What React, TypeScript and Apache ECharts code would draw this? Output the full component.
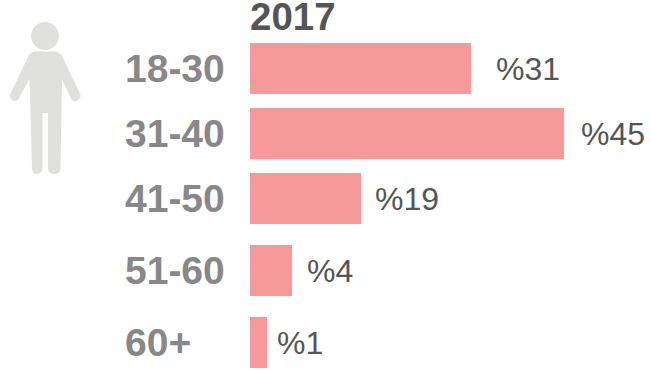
import React, { useEffect, useRef } from "react";
import * as echarts from "echarts";

const categories = ["18-30", "31-40", "41-50", "51-60", "60+"];
const values = [31, 45, 19, 4, 1];
const title = "2017";

// The source's rows are unevenly spaced and its bars are not to one scale,
// so each row gets its own grid, whose x axis ends at the row's value.
const rowLayout = [
  { top: 43, width: 221, gap: 25 },
  { top: 108, width: 314, gap: 17 },
  { top: 173, width: 111, gap: 14 },
  { top: 245, width: 42, gap: 15 },
  { top: 317, width: 17, gap: 10 },
];

const figure =
  "M45 22a14 14 0 1 0 .01 0Z" +
  "M36 51.5H54C57.5 51.5 60.5 53 62 56L80 93.5C82.5 99 75 104 71.5 99.5L62 79 60.5 168C60.5 176 48 176 48 168V113H42.5V168C42.5 176 32 176 32 168L29.5 79 18 99.5C15 104 8 99 10.5 93.5L28.5 56C30 53 32.5 51.5 36 51.5Z";

export default function App() {
  const ref = useRef<HTMLDivElement>(null);
  useEffect(() => {
    document.body.style.margin = "0";
    const chart = echarts.init(ref.current!, undefined, { renderer: "svg" });
    echarts.graphic.registerShape("person", echarts.graphic.extendPath(figure as any, {}) as any);
    const font = "Liberation Sans";
    chart.setOption({
      animation: false,
      textStyle: { fontFamily: font },
      title: {
        text: title,
        left: 250,
        top: 0,
        padding: 0,
        textStyle: { fontFamily: font, fontWeight: "bold", fontSize: 38.5, lineHeight: 32, color: "#555555" },
      },
      graphic: [{ type: "person", x: 0, y: 0, style: { fill: "#e0e0df" } }],
      grid: rowLayout.map((r) => ({ left: 250, top: r.top, width: r.width, height: 51, containLabel: false })),
      xAxis: values.map((v, i) => ({ type: "value", gridIndex: i, min: 0, max: v, show: false })),
      yAxis: categories.map((c, i) => ({
        type: "category",
        gridIndex: i,
        data: [c],
        axisLine: { show: false },
        axisTick: { show: false },
        axisLabel: {
          margin: 125,
          align: "left",
          fontFamily: font,
          fontWeight: "bold",
          fontSize: 39,
          color: "#888888",
        },
      })),
      series: values.map((v, i) => ({
        type: "bar",
        xAxisIndex: i,
        yAxisIndex: i,
        data: [v],
        barWidth: "100%",
        itemStyle: { color: "#f6999b" },
        label: {
          show: true,
          position: "right",
          distance: rowLayout[i].gap,
          formatter: "%" + v,
          fontFamily: font,
          fontSize: 32,
          color: "#555555",
        },
      })),
    });
    return () => chart.dispose();
  }, []);
  return <div ref={ref} style={{ width: 651, height: 370 }} />;
}
